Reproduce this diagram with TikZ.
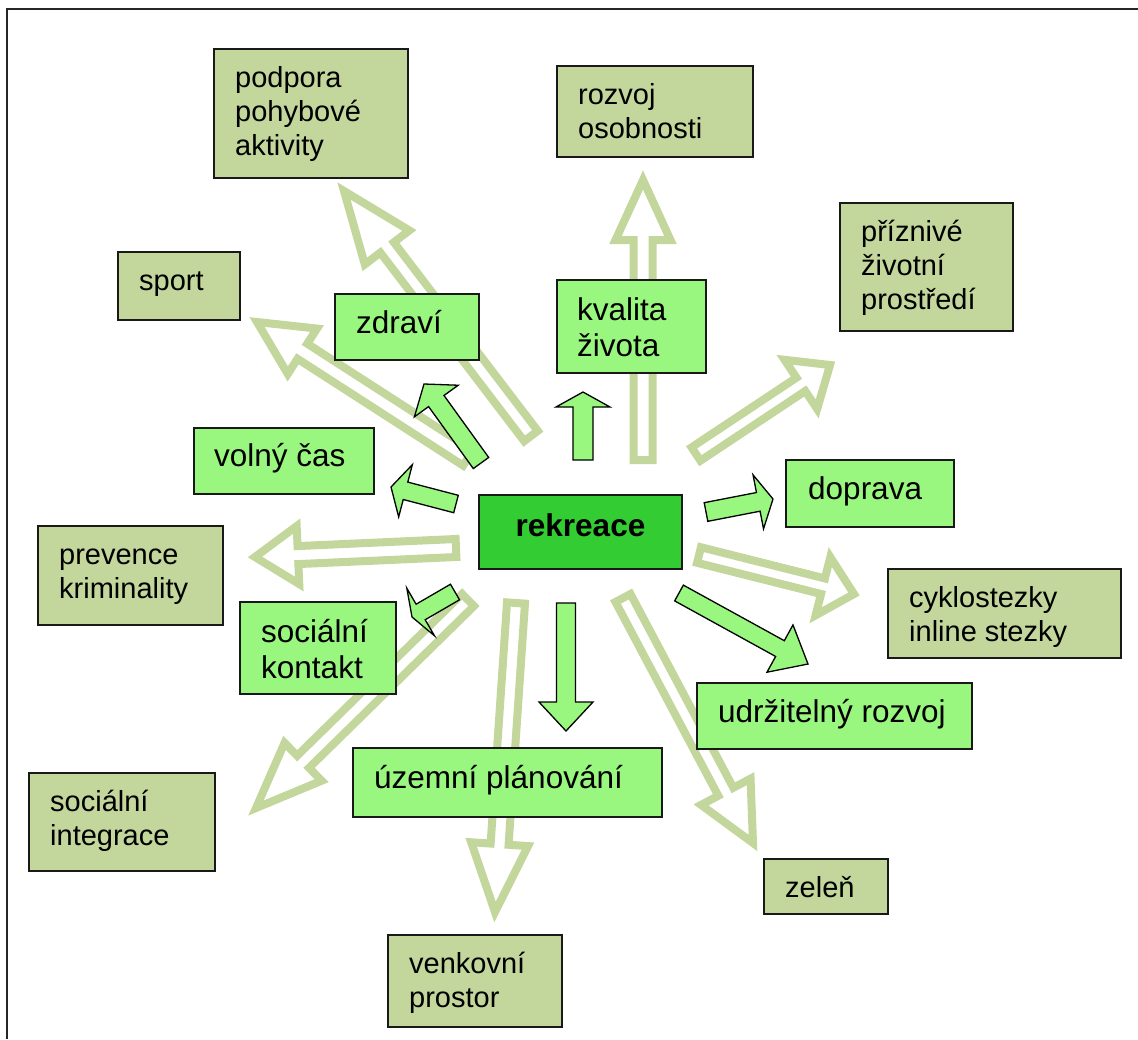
\documentclass[tikz,border=0pt]{standalone}
\usepackage{fontspec}
\setmainfont{Liberation Sans}
\usetikzlibrary{calc}
\definecolor{olivebox}{HTML}{C3D69B}
\definecolor{lgreen}{HTML}{99F77F}
\definecolor{dgreen}{HTML}{33CC33}
% #1 style, #2 tail, #3 tip, #4 half shaft width, #5 half head width, #6 head length
\newcommand{\blockarrow}[6]{%
  \coordinate (hb) at ($(#3)!#6!(#2)$);
  \draw[#1] ($(#2)!#4!90:(#3)$) -- ($(hb)!#4!-90:(#2)$) -- ($(hb)!#5!-90:(#2)$)
    -- (#3) -- ($(hb)!#5!90:(#2)$) -- ($(hb)!#4!90:(#2)$) -- ($(#2)!#4!-90:(#3)$) -- cycle;}
\newcommand{\fl}{\rule{0pt}{30pt}}
\begin{document}
\begin{tikzpicture}[x=1pt,y=-1pt,
  outl/.style={draw=olivebox, line width=8pt, fill=white, line join=miter},
  filarr/.style={draw=black, line width=1.3pt, fill=lgreen, line join=miter},
  obox/.style={draw=black!90, line width=1.6pt, fill=olivebox, anchor=north west, inner sep=0pt, outer sep=0pt},
  gbox/.style={draw=black!90, line width=1.6pt, fill=lgreen, anchor=north west, inner sep=0pt, outer sep=0pt},
  dbox/.style={draw=black!90, line width=1.6pt, fill=dgreen, anchor=north west, inner sep=0pt, outer sep=0pt},
  otxt/.style={anchor=north west, inner sep=0pt, align=left, font=\fontsize{29}{34}\selectfont},
  gtxt/.style={anchor=north west, inner sep=0pt, align=left, font=\fontsize{31.5}{36}\selectfont}]
\fill[white] (0,0) rectangle (1138,1039);
\useasboundingbox (0,0) rectangle (1138,1039);

% frame
\coordinate (frA) at (1138,9);
\coordinate (frB) at (7,9);
\coordinate (frC) at (7,1039);
\draw[line width=2pt, black!85] (frA) -- (frB) -- (frC);

% outline arrows (tails and tips)
\coordinate (o1t) at (531,436); \coordinate (o1p) at (344,191);
\coordinate (o2t) at (468,458); \coordinate (o2p) at (257,322);
\coordinate (o3t) at (643,460); \coordinate (o3p) at (643,180);
\coordinate (o4t) at (696,454); \coordinate (o4p) at (830,365);
\coordinate (o5t) at (699,555); \coordinate (o5p) at (854,594);
\coordinate (o6t) at (623,598); \coordinate (o6p) at (753,843);
\coordinate (o7t) at (516,603); \coordinate (o7p) at (495,912);
\coordinate (o8t) at (468,600); \coordinate (o8p) at (256,808);
\coordinate (o9t) at (456,548); \coordinate (o9p) at (255,557);
\blockarrow{outl}{o1t}{o1p}{8.5pt}{28pt}{71pt}
\blockarrow{outl}{o2t}{o2p}{9pt}{27pt}{54pt}
\blockarrow{outl}{o3t}{o3p}{9.5pt}{27.5pt}{60pt}
\blockarrow{outl}{o4t}{o4p}{8pt}{29.5pt}{35pt}
\blockarrow{outl}{o5t}{o5p}{8pt}{30pt}{32pt}
\blockarrow{outl}{o6t}{o6p}{8.5pt}{28pt}{58pt}
\blockarrow{outl}{o7t}{o7p}{9pt}{28.5pt}{68pt}
\blockarrow{outl}{o8t}{o8p}{8.5pt}{26.5pt}{66pt}
\blockarrow{outl}{o9t}{o9p}{9pt}{29pt}{43pt}

% olive boxes
\node[obox, minimum width=194pt, minimum height=129pt] (podpora) at (214,49) {};
\node[obox, minimum width=196pt, minimum height=91pt] (rozvoj) at (557,66) {};
\node[obox, minimum width=173pt, minimum height=128pt] (prizn) at (840,203) {};
\node[obox, minimum width=122pt, minimum height=68pt] (sport) at (118,252) {};
\node[obox, minimum width=185pt, minimum height=99pt] (prev) at (38,526) {};
\node[obox, minimum width=233pt, minimum height=89pt] (cyklo) at (888,569) {};
\node[obox, minimum width=186pt, minimum height=98pt] (socint) at (29,773) {};
\node[obox, minimum width=124pt, minimum height=55pt] (zelen) at (764,859) {};
\node[obox, minimum width=174pt, minimum height=92pt] (venk) at (388,935) {};

% green boxes
\node[gbox, minimum width=144pt, minimum height=66pt] (zdravi) at (335,294) {};
\node[gbox, minimum width=149pt, minimum height=93pt] (kval) at (557,280) {};
\node[gbox, minimum width=180pt, minimum height=66pt] (volny) at (194,428) {};
\node[gbox, minimum width=168pt, minimum height=67pt] (doprava) at (786,460) {};
\node[gbox, minimum width=156pt, minimum height=92pt] (soccont) at (240,602) {};
\node[gbox, minimum width=275pt, minimum height=66pt] (udrz) at (697,683) {};
\node[gbox, minimum width=309pt, minimum height=69pt] (uzemni) at (353,748) {};
\node[dbox, minimum width=203pt, minimum height=74pt] (rek) at (479,495) {};

% texts
\node[otxt] (podpora-t) at ([shift={(21,8)}]podpora.north west) {\fl podpora\\pohybové\\aktivity};
\node[otxt] (rozvoj-t) at ([shift={(21,8)}]rozvoj.north west) {\fl rozvoj\\osobnosti};
\node[otxt] (prizn-t) at ([shift={(21,8)}]prizn.north west) {\fl příznivé\\životní\\prostředí};
\node[otxt] (sport-t) at ([shift={(21,8)}]sport.north west) {\fl sport};
\node[otxt] (prev-t) at ([shift={(21,8)}]prev.north west) {\fl prevence\\kriminality};
\node[otxt] (cyklo-t) at ([shift={(21,8)}]cyklo.north west) {\fl cyklostezky\\inline stezky};
\node[otxt] (socint-t) at ([shift={(21,8)}]socint.north west) {\fl sociální\\integrace};
\node[otxt] (zelen-t) at ([shift={(21,8)}]zelen.north west) {\fl zeleň};
\node[otxt] (venk-t) at ([shift={(21,8)}]venk.north west) {\fl venkovní\\prostor};

\node[gtxt] (zdravi-t) at ([shift={(21,9)}]zdravi.north west) {\fl zdraví};
\node[gtxt] (kval-t) at ([shift={(20,10)}]kval.north west) {\fl kvalita\\života};
\node[gtxt] (volny-t) at ([shift={(20,8)}]volny.north west) {\fl volný čas};
\node[gtxt] (doprava-t) at ([shift={(22,9)}]doprava.north west) {\fl doprava};
\node[gtxt] (soccont-t) at ([shift={(21,10)}]soccont.north west) {\fl sociální\\kontakt};
\node[gtxt] (udrz-t) at ([shift={(21,9)}]udrz.north west) {\fl udržitelný rozvoj};
\node[gtxt] (uzemni-t) at ([shift={(21,10)}]uzemni.north west) {\fl územní plánování};
\node[anchor=base, inner sep=0pt, font=\fontsize{31.5}{36}\selectfont\bfseries] (rek-t) at ([shift={(0,41)}]rek.north) {rekreace};

% filled green arrows
\coordinate (g1t) at (481,463); \coordinate (g1p) at (424,384);
\coordinate (g2t) at (583,460); \coordinate (g2p) at (583,392);
\coordinate (g3t) at (456,504); \coordinate (g3p) at (391,487);
\coordinate (g4t) at (455,592); \coordinate (g4p) at (412,617);
\coordinate (g5t) at (706,512); \coordinate (g5p) at (773,499);
\coordinate (g6t) at (679,593); \coordinate (g6p) at (808,664);
\coordinate (g7t) at (566,603); \coordinate (g7p) at (566,731);
\blockarrow{filarr}{g1t}{g1p}{9.5pt}{27pt}{21pt}
\blockarrow{filarr}{g2t}{g2p}{10pt}{27pt}{15pt}
\blockarrow{filarr}{g3t}{g3p}{9pt}{27pt}{15pt}
\blockarrow{filarr}{g4t}{g4p}{9pt}{27.5pt}{10pt}
\blockarrow{filarr}{g5t}{g5p}{9.5pt}{27.5pt}{15pt}
\blockarrow{filarr}{g6t}{g6p}{9pt}{27pt}{32pt}
\blockarrow{filarr}{g7t}{g7p}{9.5pt}{27pt}{29pt}
\end{tikzpicture}
\end{document}
